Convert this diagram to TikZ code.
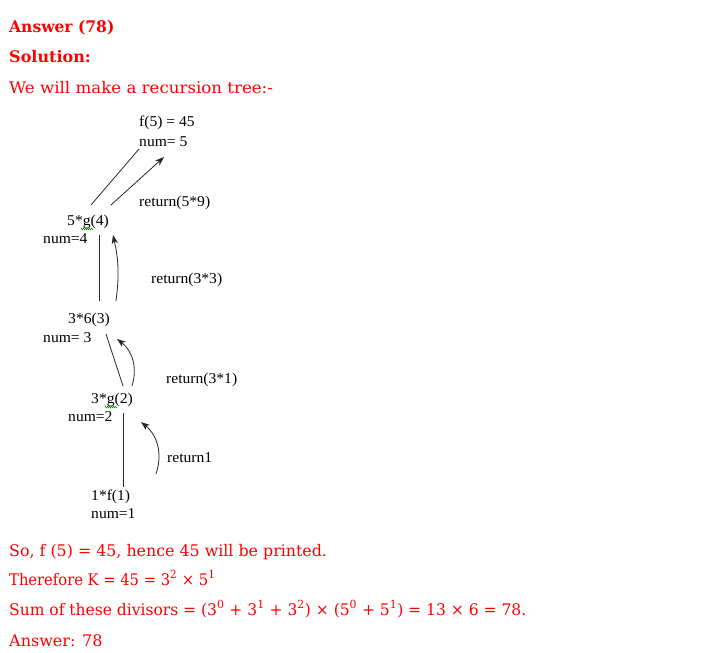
\documentclass[tikz,border=0pt]{standalone}
\usepackage{fontspec}
\setmainfont{DejaVu Serif}
\newfontfamily\treefont[FakeStretch=1.04]{Liberation Serif}
\usetikzlibrary{arrows.meta,decorations.pathmorphing}
\newcommand{\strch}[1]{\addfontfeature{FakeStretch=#1}}
\begin{document}
\begin{tikzpicture}[x=1pt,y=-1pt,
  redtext/.style={anchor=base west, inner sep=0pt, text=red, font=\fontsize{16}{19}\selectfont},
  redbold/.style={redtext, font=\bfseries\fontsize{16}{19}\selectfont},
  treetext/.style={anchor=base west, inner sep=0pt, font=\treefont\fontsize{15}{17}\selectfont},
  edge/.style={line width=0.8pt, black!85},
  ret/.style={edge, -{Stealth[length=9pt,width=6.5pt]}},
  squig/.style={green!55!black, line width=0.5pt, decorate, decoration={zigzag, segment length=2pt, amplitude=0.8pt}}]
\useasboundingbox (0,0) rectangle (710,653);
% header
\node[redbold] (h1) at (9,32) {\strch{0.97}Answer (78)};
\node[redbold] (h2) at (9,62) {Solution:};
\node[redtext] (h3) at (9,93) {\strch{1.04}We will make a recursion tree:-};
% tree texts
\node[treetext] (f5) at (139,126) {f(5) = 45};
\node[treetext] (n5) at (139,146) {num= 5};
\node[treetext] (r59) at (139,206) {return(5*9)};
\node[treetext] (g4) at (67,225) {5*g(4)};
\node[treetext] (n4) at (43,243) {num=4};
\node[treetext] (r33) at (151,283) {return(3*3)};
\node[treetext] (g3) at (68,323) {3*6(3)};
\node[treetext] (n3) at (43,342) {num= 3};
\node[treetext] (r31) at (166,383) {return(3*1)};
\node[treetext] (g2) at (91,403) {3*g(2)};
\node[treetext] (n2) at (68,421) {num=2};
\node[treetext] (r1) at (167,462) {return1};
\node[treetext] (f1) at (91,500) {1*f(1)};
\node[treetext] (n1) at (91,518) {num=1};
% spelling squiggles
\draw[squig] (81,229) -- (93,229);
\draw[squig] (105,407) -- (117,407);
% connector end points
\coordinate (a1) at (91,205); \coordinate (a2) at (139,149);
\coordinate (b1) at (111,205); \coordinate (b2) at (164,157);
\coordinate (c1) at (99,235); \coordinate (c2) at (99,301);
\coordinate (d1) at (116,301); \coordinate (d2) at (113,235);
\coordinate (e1) at (106,334); \coordinate (e2) at (123,386);
\coordinate (k1) at (132,386); \coordinate (k2) at (117,339);
\coordinate (m1) at (123,413); \coordinate (m2) at (123,487);
\coordinate (p1) at (156,474); \coordinate (p2) at (141,422);
\draw[edge] (a1) -- (a2);
\draw[ret] (b1) -- (b2);
\draw[edge] (c1) -- (c2);
\draw[ret] (d1) to[bend right=10] (d2);
\draw[edge] (e1) -- (e2);
\draw[ret] (k1) to[bend right=35] (k2);
\draw[edge] (m1) -- (m2);
\draw[ret] (p1) to[bend right=35] (p2);
% bottom text
\node[redtext] (s1) at (9,556) {\strch{0.99}So, f (5) = 45, hence 45 will be printed.};
\node[redtext] (s2) at (9,585) {\strch{0.92}Therefore K = 45 = 3\textsuperscript{2} × 5\textsuperscript{1}};
\node[redtext] (s3) at (9,615) {\strch{0.97}Sum of these divisors = (3\textsuperscript{0} + 3\textsuperscript{1} + 3\textsuperscript{2}) × (5\textsuperscript{0} + 5\textsuperscript{1}) = 13 × 6 = 78.};
\node[redtext] (s4) at (9,646) {Answer: 78};
\end{tikzpicture}
\end{document}
